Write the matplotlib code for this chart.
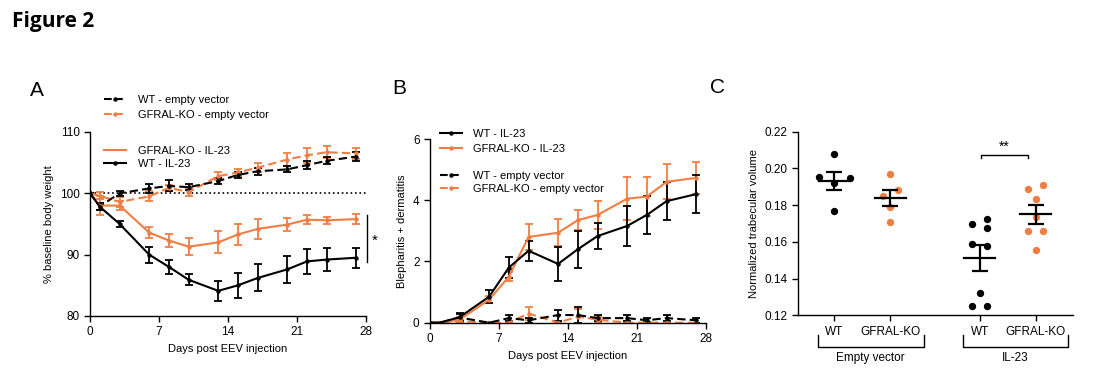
import numpy as np
import matplotlib
matplotlib.use("Agg")
from matplotlib import pyplot as plt
from matplotlib.lines import Line2D

plt.rcParams['font.family'] = ['Liberation Sans', 'DejaVu Sans']
plt.rcParams['font.size'] = 8

orange = "#F07E42"
black = "#000000"

# ---- panel A: body weight ----
days = [0, 1, 3, 6, 8, 10, 13, 15, 17, 20, 22, 24, 27]
wt_ev = [100, 97.9, 100.0, 100.8, 101.2, 101.0, 102.0, 103.0, 103.6, 103.9, 104.6, 105.3, 106.0]
wt_ev_err = [0, 0.6, 0.4, 0.7, 0.9, 0.5, 0.5, 0.5, 0.6, 0.5, 0.6, 0.6, 0.7]
ko_ev = [100, 99.6, 98.6, 99.5, 100.9, 100.2, 102.8, 103.4, 104.2, 105.5, 106.2, 106.7, 106.5]
ko_ev_err = [0, 0.6, 0.8, 0.8, 0.5, 0.6, 0.6, 0.5, 0.7, 1.0, 1.2, 1.0, 0.9]
ko_il = [100, 98.0, 98.0, 93.6, 92.3, 91.3, 92.0, 93.3, 94.2, 94.9, 95.7, 95.6, 95.8]
ko_il_err = [0, 1.6, 0.8, 0.9, 1.1, 1.4, 1.8, 1.7, 1.6, 1.1, 0.7, 0.6, 0.8]
wt_il = [100, 97.8, 95.0, 90.0, 88.0, 85.9, 84.1, 85.0, 86.2, 87.6, 88.9, 89.2, 89.5]
wt_il_err = [0, 0.6, 0.5, 1.3, 1.2, 0.9, 1.6, 2.0, 2.2, 2.2, 2.1, 1.9, 1.6]

# ---- panel B: blepharitis + dermatitis score ----
b_wt_il = [0, 0, 0.18, 0.85, 1.8, 2.35, 1.92, 2.4, 2.83, 3.16, 3.52, 3.97, 4.2]
b_wt_il_err = [0, 0, 0.13, 0.22, 0.35, 0.32, 0.55, 0.6, 0.42, 0.65, 0.62, 0.62, 0.63]
b_ko_il = [0, 0, 0.1, 0.75, 1.5, 2.8, 2.94, 3.35, 3.52, 4.05, 4.12, 4.6, 4.73]
b_ko_il_err = [0, 0, 0.08, 0.12, 0.15, 0.42, 0.45, 0.33, 0.45, 0.7, 0.65, 0.57, 0.52]
b_wt_ev = [0, 0, 0.17, 0, 0.15, 0.08, 0.25, 0.25, 0.15, 0.15, 0.08, 0.15, 0.08]
b_wt_ev_err = [0, 0, 0.12, 0, 0.1, 0.08, 0.18, 0.25, 0.1, 0.1, 0.06, 0.1, 0.08]
b_ko_ev = [0, 0, 0.05, 0, 0, 0.3, 0, 0.2, 0.1, 0, 0, 0, 0]
b_ko_ev_err = [0, 0, 0.05, 0, 0, 0.2, 0, 0.25, 0.1, 0, 0, 0, 0]

# ---- panel C: trabecular volume ----
c_labels = ["WT", "GFRAL-KO", "WT", "GFRAL-KO"]
c_pos = [0, 1, 2.6, 3.6]
c_wt_ev = [0.1955, 0.2078, 0.1919, 0.1948, 0.1770]
c_ko_ev = [0.1968, 0.1850, 0.1882, 0.1792, 0.1710]
c_wt_il = [0.1697, 0.1723, 0.1677, 0.1587, 0.1578, 0.1323, 0.1254, 0.1254]
c_ko_il = [0.1886, 0.1911, 0.1835, 0.1737, 0.1661, 0.1661, 0.1559]
c_jitter = [
    [-0.8, 0, 0, 0.8, 0],
    [0, -0.4, 0.4, 0, 0],
    [-0.4, 0.4, 0.4, -0.4, 0.4, 0, -0.4, 0.4],
    [-0.4, 0.4, 0, 0, -0.4, 0.4, 0],
]

fig = plt.figure(figsize=(11.09, 3.82), dpi=100)
fig.text(0.011, 0.945, "Figure 2", fontsize=15, fontweight="bold", va="center",
         family=["Open Sans", "DejaVu Sans"])


def style(ax):
    for s in ["top", "right"]:
        ax.spines[s].set_visible(False)
    for s in ["left", "bottom"]:
        ax.spines[s].set_linewidth(1.0)
    ax.tick_params(width=1.0, length=4, labelsize=8.5)


def series(ax, y, err, color, ls):
    ax.errorbar(days, y, yerr=err, color=color, ls=ls, lw=1.5, marker="o", ms=2.2,
                capsize=3, elinewidth=1.3, capthick=1.3, dashes=(4, 2) if ls == "--" else (None, None))


leg_kw = dict(loc="upper left", frameon=False, handlelength=2.0, handletextpad=1.0, fontsize=8)

# A
axA = fig.add_axes([0.0812, 0.1728, 0.249, 0.4817])
style(axA)
axA.axhline(100, color="black", ls=":", lw=1.2, xmax=1)
series(axA, ko_ev, ko_ev_err, orange, "--")
series(axA, wt_ev, wt_ev_err, black, "--")
series(axA, ko_il, ko_il_err, orange, "-")
series(axA, wt_il, wt_il_err, black, "-")
axA.set_xlim(0, 28)
axA.set_ylim(80, 110)
axA.set_xticks([0, 7, 14, 21, 28])
axA.set_yticks([80, 90, 100, 110])
axA.set_xlabel("Days post EEV injection", fontsize=8)
axA.set_ylabel("% baseline body weight", fontsize=8)
axA.plot([28.1, 28.1], [96.4, 88.8], color="black", lw=1.0, clip_on=False)
axA.text(28.6, 92.3, "*", fontsize=11, va="center", ha="left")

h_wt_ev = Line2D([], [], color=black, ls="--", lw=1.5, marker="o", ms=2.2)
h_ko_ev = Line2D([], [], color=orange, ls="--", lw=1.5, marker="o", ms=2.2)
h_ko_il = Line2D([], [], color=orange, ls="-", lw=1.5)
h_wt_il = Line2D([], [], color=black, ls="-", lw=1.5, marker="o", ms=2.2)
legA1 = axA.legend([h_wt_ev, h_ko_ev], ["WT - empty vector", "GFRAL-KO - empty vector"],
                   bbox_to_anchor=(0.015, 1.255), labelspacing=0.45, **leg_kw)
axA.add_artist(legA1)
axA.legend([h_ko_il, h_wt_il], ["GFRAL-KO - IL-23", "WT - IL-23"],
           bbox_to_anchor=(0.015, 0.98), labelspacing=0.3, **leg_kw)

# B
axB = fig.add_axes([0.3877, 0.1552, 0.2489, 0.4809])
style(axB)
series(axB, b_ko_ev, b_ko_ev_err, orange, "--")
series(axB, b_wt_ev, b_wt_ev_err, black, "--")
series(axB, b_ko_il, b_ko_il_err, orange, "-")
series(axB, b_wt_il, b_wt_il_err, black, "-")
axB.set_xlim(0, 28)
axB.set_ylim(0, 6)
axB.set_xticks([0, 7, 14, 21, 28])
axB.set_yticks([0, 2, 4, 6])
axB.set_xlabel("Days post EEV injection", fontsize=8)
axB.set_ylabel("Blepharitis + dermatitis", fontsize=8)
h_b_wt_il = Line2D([], [], color=black, ls="-", lw=1.5, marker="o", ms=2.2)
h_b_ko_il = Line2D([], [], color=orange, ls="-", lw=1.5, marker="o", ms=2.2)
legB1 = axB.legend([h_b_wt_il, h_b_ko_il], ["WT - IL-23", "GFRAL-KO - IL-23"],
                   bbox_to_anchor=(0.0, 1.11), labelspacing=0.45, **leg_kw)
axB.add_artist(legB1)
axB.legend([h_wt_ev, h_ko_ev], ["WT - empty vector", "GFRAL-KO - empty vector"],
           bbox_to_anchor=(0.0, 0.88), labelspacing=0.3, **leg_kw)

# C
axC = fig.add_axes([0.7196, 0.1741, 0.248, 0.4811])
style(axC)
groups = [c_wt_ev, c_ko_ev, c_wt_il, c_ko_il]
colors = [black, orange, black, orange]
for pos, vals, col, jit in zip(c_pos, groups, colors, c_jitter):
    vals = np.array(vals)
    xs = pos + np.array(jit) * 0.34
    axC.scatter(xs, vals, s=28, color=col, zorder=3, linewidths=0)
    m = vals.mean()
    sem = vals.std(ddof=1) / np.sqrt(len(vals))
    axC.plot([pos - 0.28, pos + 0.28], [m, m], color="black", lw=1.6, zorder=4)
    axC.errorbar([pos], [m], yerr=[sem], color="black", capsize=6, elinewidth=1.6,
                 capthick=1.6, zorder=4)
axC.set_xlim(-0.65, 4.27)
axC.set_ylim(0.12, 0.22)
axC.set_yticks(np.arange(0.12, 0.2201, 0.02))
axC.set_yticklabels(["%.2f" % v for v in np.arange(0.12, 0.2201, 0.02)])
axC.set_xticks(c_pos)
axC.set_xticklabels(c_labels)
axC.set_ylabel("Normalized trabecular volume", fontsize=8)
# significance
axC.plot([2.62, 2.62, 3.47, 3.47], [0.2055, 0.2075, 0.2075, 0.2055], color="black", lw=1.0)
axC.text(3.04, 0.2082, "**", ha="center", va="bottom", fontsize=10)
# group brackets
for x0, x1, lab in [(-0.3, 1.6, "Empty vector"), (2.3, 4.18, "IL-23")]:
    axC.plot([x0, x0, x1, x1], [0.1094, 0.1029, 0.1029, 0.1094], color="black", lw=1.0,
             clip_on=False)
    axC.text((x0 + x1) / 2, 0.0968, lab, ha="center", va="center", fontsize=8.5)

fig.text(0.027, 0.762, "A", fontsize=15, va="center")
fig.text(0.354, 0.768, "B", fontsize=15, va="center")
fig.text(0.640, 0.772, "C", fontsize=15, va="center")

fig.savefig("out.png", dpi=100)
